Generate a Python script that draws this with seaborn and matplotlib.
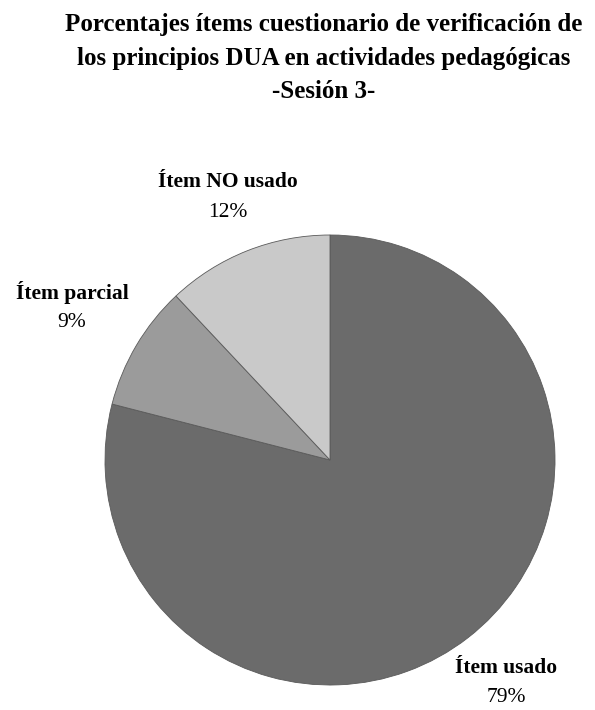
import matplotlib
matplotlib.use("Agg")
import matplotlib.pyplot as plt
import seaborn as sns

# data
categories = ["Ítem usado", "Ítem parcial", "Ítem NO usado"]
percentages = [79, 9, 12]
slice_colors = ["#6b6b6b", "#9b9b9b", "#c9c9c9"]

title = ("Porcentajes ítems cuestionario de verificación de\n"
         "los principios DUA en actividades pedagógicas\n"
         "-Sesión 3-")

sns.set_theme(style="white")
plt.rcParams["font.family"] = ["Liberation Serif", "DejaVu Serif"]
plt.rcParams["text.color"] = "black"

W, H = 595, 710
fig = plt.figure(figsize=(W / 100, H / 100), dpi=100)
fig.patch.set_facecolor("white")

# pie centre ~ (330, 460) px, radius ~ 225 px
cx, cy, r = 330, 460, 225
ax = fig.add_axes([(cx - r) / W, (H - cy - r) / H, 2 * r / W, 2 * r / H])
ax.pie(percentages, colors=slice_colors, startangle=90, counterclock=False,
       wedgeprops=dict(edgecolor="#5a5a5a", linewidth=0.6))
ax.set_xlim(-1, 1)
ax.set_ylim(-1, 1)
ax.set_aspect("equal")
ax.axis("off")

fig.text(324 / W, 1 - 58 / H, title, ha="center", va="center",
         fontsize=18, fontweight="bold", linespacing=1.6)

# label anchors (px) for name / percentage
label_pos = {
    "Ítem usado": (506, 668),
    "Ítem parcial": (72, 292),
    "Ítem NO usado": (228, 182),
}
for name, pct in zip(categories, percentages):
    x, y = label_pos[name]
    fig.text(x / W, 1 - y / H, name, ha="center", va="center",
             fontsize=15.5, fontweight="bold")
    fig.text(x / W, 1 - (y + 30) / H, f"{pct}%", ha="center", va="center",
             fontsize=15.5)

fig.savefig("out.png", dpi=100)
